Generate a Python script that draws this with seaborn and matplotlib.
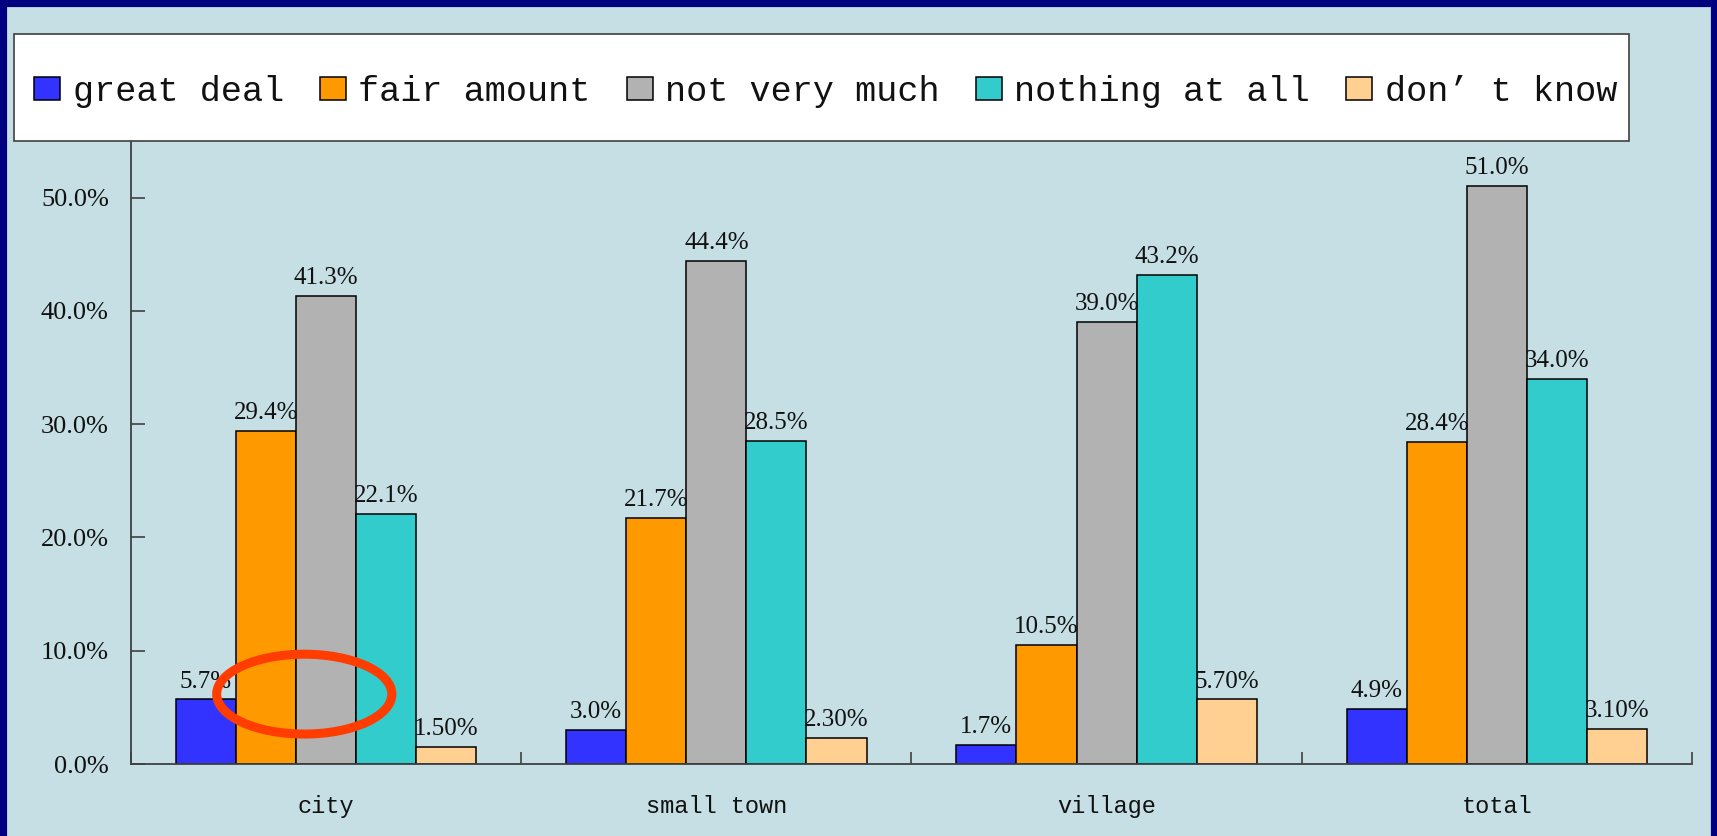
import matplotlib
matplotlib.use("Agg")
import matplotlib.pyplot as plt
from matplotlib.patches import Ellipse, Rectangle
import seaborn as sns
import pandas as pd

areas = ["city", "small town", "village", "total"]
responses = ["great deal", "fair amount", "not very much", "nothing at all", "don\u2019 t know"]
great_deal = [5.7, 3.0, 1.7, 4.9]
fair_amount = [29.4, 21.7, 10.5, 28.4]
not_very_much = [41.3, 44.4, 39.0, 51.0]
nothing_at_all = [22.1, 28.5, 43.2, 34.0]
dont_know = [1.5, 2.3, 5.7, 3.1]
series_values = [great_deal, fair_amount, not_very_much, nothing_at_all, dont_know]
label_formats = ["{:.1f}%", "{:.1f}%", "{:.1f}%", "{:.1f}%", "{:.2f}%"]
yticks = [0, 10, 20, 30, 40, 50]
ytick_labels = ["0.0%", "10.0%", "20.0%", "30.0%", "40.0%", "50.0%"]
colors = ["#3333FF", "#FF9900", "#B2B2B2", "#33CCCC", "#FFD092"]

rows = []
for resp, vals in zip(responses, series_values):
    for a, v in zip(areas, vals):
        rows.append({"area": a, "response": resp, "value": v})
df = pd.DataFrame(rows)

sns.set_theme(style="white")
MONO = ["Liberation Mono", "DejaVu Sans Mono"]
SERIF = ["Liberation Serif", "DejaVu Serif"]
plt.rcParams["font.family"] = SERIF

BG = "#C5DFE5"
fig = plt.figure(figsize=(17.17, 8.36), dpi=100, facecolor=BG)
ax = fig.add_axes([0.0763, 0.0861, 0.9854 - 0.0763, 0.8313 - 0.0861])
ax.set_facecolor(BG)

sns.barplot(data=df, x="area", y="value", hue="response", order=areas,
            hue_order=responses, palette=colors, width=0.77, saturation=1,
            edgecolor="black", linewidth=1.1, ax=ax, legend=True)

for cont, vals, fmt in zip(ax.containers, series_values, label_formats):
    ax.bar_label(cont, labels=[fmt.format(v) for v in vals], padding=5,
                 fontsize=18, color="#111111", family=SERIF)

ax.set_xlim(-0.5, 3.5)
ax.set_ylim(0, 55)
ax.set_yticks(yticks)
ax.set_yticklabels(ytick_labels, fontsize=19, color="#111111", family=SERIF)
ax.set_xticks(range(len(areas)))
ax.set_xticklabels(areas, fontsize=17, color="#111111", family=MONO)
ax.set_xticks([-0.5, 0.5, 1.5, 2.5, 3.5], minor=True)
ax.tick_params(axis="x", which="major", length=0, pad=22)
ax.tick_params(axis="x", which="minor", direction="in", length=9, color="#404040", width=1.2, bottom=True)
ax.tick_params(axis="y", direction="in", length=10, color="#404040", width=1.2, left=True, pad=16)
ax.set_xlabel("")
ax.set_ylabel("")
for s in ["top", "right"]:
    ax.spines[s].set_visible(False)
for s in ["left", "bottom"]:
    ax.spines[s].set_color("#404040")
    ax.spines[s].set_linewidth(1.3)

# annotation ellipse
ell_center = (-0.056, 6.17)
ell_w, ell_h = 0.449, 7.05
ax.add_patch(Ellipse(ell_center, ell_w, ell_h, fill=False, edgecolor="#FF3D00",
                     linewidth=6.5, zorder=5, clip_on=False))

# legend box
fig.add_artist(Rectangle((0.0082, 0.8313), 0.9487 - 0.0082, 0.9593 - 0.8313,
                         transform=fig.transFigure, facecolor="white",
                         edgecolor="#404040", linewidth=1.2, zorder=3))

handles, labels = ax.get_legend_handles_labels()
ax.legend_.remove()
leg = fig.legend(handles, labels, ncol=5, loc="center",
                 bbox_to_anchor=(0.0198, 0.861, 0.9418 - 0.0198, 0.06),
                 mode="expand", borderaxespad=0, frameon=False,
                 handlelength=0.75, handleheight=0.65,
                 handletextpad=0.35, columnspacing=0.8, borderpad=0,
                 prop={"family": MONO, "size": 25.3})
leg.set_zorder(4)
for t in leg.get_texts():
    t.set_color("#111111")

fig.add_artist(Rectangle((0, -0.1), 1, 1.1, transform=fig.transFigure, fill=False,
                         edgecolor="#000080", linewidth=9.5, zorder=10))

fig.savefig("out.png", dpi=100, facecolor=BG)
